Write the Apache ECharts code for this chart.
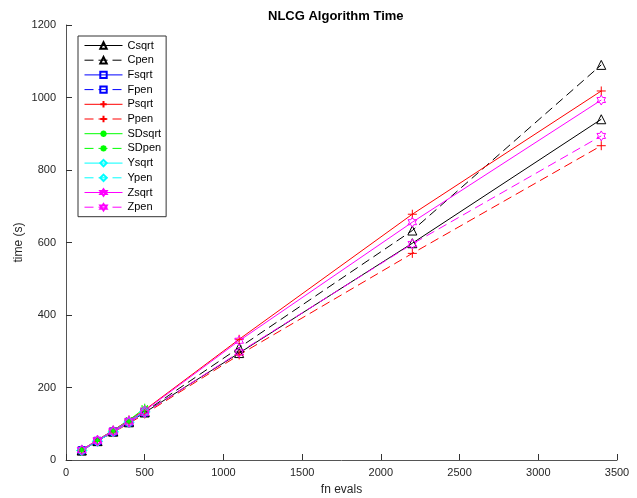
<!DOCTYPE html>
<html>
<head>
<meta charset="utf-8">
<script src="https://cdn.jsdelivr.net/npm/echarts@6/dist/echarts.min.js"></script>
<style>html,body{margin:0;padding:0;background:#fff}#c{width:637px;height:498px}</style>
</head>
<body>
<div id="c"></div>
<script>
// ---- data ----
var xLong = [100, 200, 300, 400, 500, 1100, 2200, 3400];
var xShort = [100, 200, 300, 400, 500];
var Csqrt = [26, 52, 78, 104, 131, 295, 598, 940];
var Cpen = [27, 53, 80, 106, 133, 310, 633, 1090];
var Fsqrt = [27, 53, 79, 105, 133];
var Fpen = [27, 52, 78, 104, 131];
var Psqrt = [28, 55, 82, 110, 138, 333, 678, 1018];
var Ppen = [26, 51, 76, 101, 127, 290, 570, 867];
var SDsqrt = [28, 55, 82, 110, 143];
var SDpen = [27, 54, 80, 107, 140];
var Ysqrt = [26, 52, 78, 105, 134];
var Ypen = [26, 51, 77, 103, 132];
var Zsqrt = [28, 55, 81, 108, 136, 329, 656, 993];
var Zpen = [27, 52, 78, 104, 130, 297, 596, 894];
var seriesNames = ['Csqrt','Cpen','Fsqrt','Fpen','Psqrt','Ppen','SDsqrt','SDpen','Ysqrt','Ypen','Zsqrt','Zpen'];
var xTicks = [0, 500, 1000, 1500, 2000, 2500, 3000, 3500];
var yTicks = [0, 200, 400, 600, 800, 1000, 1200];

var PLUS = 'path://M0 5 L10 5 M5 0 L5 10';
var STAR = 'path://M0 5 L10 5 M5 0 L5 10 M1.5 1.5 L8.5 8.5 M8.5 1.5 L1.5 8.5';
var HEX = 'path://M10 0 L12.89 5 L18.66 5 L15.77 10 L18.66 15 L12.89 15 L10 20 L7.11 15 L1.34 15 L4.23 10 L1.34 5 L7.11 5 Z';

function mk(name, xs, ys, color, dashed, symbol, size) {
  var data = xs.map(function (x, i) { return [x, ys[i]]; });
  return {
    name: name, type: 'line', data: data,
    symbol: symbol, symbolSize: size, symbolKeepAspect: true, showAllSymbol: true,
    lineStyle: { color: color, width: 1, type: dashed ? [9, 5] : 'solid' },
    itemStyle: { color: 'rgba(255,255,255,0)', borderColor: color, borderWidth: 1 },
    emphasis: { disabled: true },
    animation: false, z: 2
  };
}

var series = [
  mk('Csqrt', xLong, Csqrt, '#000000', false, 'triangle', 9),
  mk('Cpen', xLong, Cpen, '#000000', true, 'triangle', 9),
  mk('Fsqrt', xShort, Fsqrt, '#0000ff', false, 'rect', 7),
  mk('Fpen', xShort, Fpen, '#0000ff', true, 'rect', 7),
  mk('Psqrt', xLong, Psqrt, '#ff0000', false, PLUS, 9),
  mk('Ppen', xLong, Ppen, '#ff0000', true, PLUS, 9),
  mk('SDsqrt', xShort, SDsqrt, '#00ff00', false, STAR, 9),
  mk('SDpen', xShort, SDpen, '#00ff00', true, STAR, 9),
  mk('Ysqrt', xShort, Ysqrt, '#00ffff', false, 'diamond', 10),
  mk('Ypen', xShort, Ypen, '#00ffff', true, 'diamond', 10),
  mk('Zsqrt', xLong, Zsqrt, '#ff00ff', false, HEX, 10),
  mk('Zpen', xLong, Zpen, '#ff00ff', true, HEX, 10)
];

var FONT = '"Liberation Sans", Arial, Helvetica, sans-serif';
var plain = function (v) { return String(v); };
var chart = echarts.init(document.getElementById('c'), null, { renderer: 'canvas' });
chart.setOption({
  backgroundColor: '#ffffff',
  animation: false,
  title: {
    text: 'NLCG Algorithm Time', left: 263, top: 5,
    textStyle: { fontFamily: FONT, fontSize: 13, fontWeight: 'bold', color: '#000' }
  },
  grid: { left: 66, right: 20, top: 25, bottom: 38, containLabel: false, outerBoundsMode: 'none' },
  legend: {
    orient: 'vertical', left: 78, top: 36,
    data: seriesNames,
    itemWidth: 38, itemHeight: 8, itemGap: 3.7,
    padding: [4, 5, 4, 6],
    borderColor: '#333', borderWidth: 1, backgroundColor: '#fff',
    lineStyle: { width: 1 },
    textStyle: { fontFamily: FONT, fontSize: 11, color: '#000' },
    selectedMode: false
  },
  xAxis: {
    type: 'value', min: xTicks[0], max: xTicks[xTicks.length - 1], interval: 500,
    name: 'fn evals', nameLocation: 'middle', nameGap: 24, nameMoveOverlap: false,
    nameTextStyle: { fontFamily: FONT, fontSize: 12, color: '#262626' },
    axisLine: { show: true, lineStyle: { color: '#555', width: 1 } },
    axisTick: { show: true, inside: true, length: 6, lineStyle: { color: '#333' } },
    axisLabel: { fontFamily: FONT, fontSize: 11, color: '#262626', margin: 7, formatter: plain },
    splitLine: { show: false }
  },
  yAxis: {
    type: 'value', min: yTicks[0], max: yTicks[yTicks.length - 1], interval: 200,
    name: 'time (s)', nameLocation: 'middle', nameGap: 41, nameMoveOverlap: false,
    nameTextStyle: { fontFamily: FONT, fontSize: 12, color: '#262626' },
    axisLine: { show: true, lineStyle: { color: '#555', width: 1 } },
    axisTick: { show: true, inside: true, length: 6, lineStyle: { color: '#333' } },
    axisLabel: { fontFamily: FONT, fontSize: 11, color: '#262626', margin: 10, formatter: plain },
    splitLine: { show: false }
  },
  series: series
});
</script>
</body>
</html>
